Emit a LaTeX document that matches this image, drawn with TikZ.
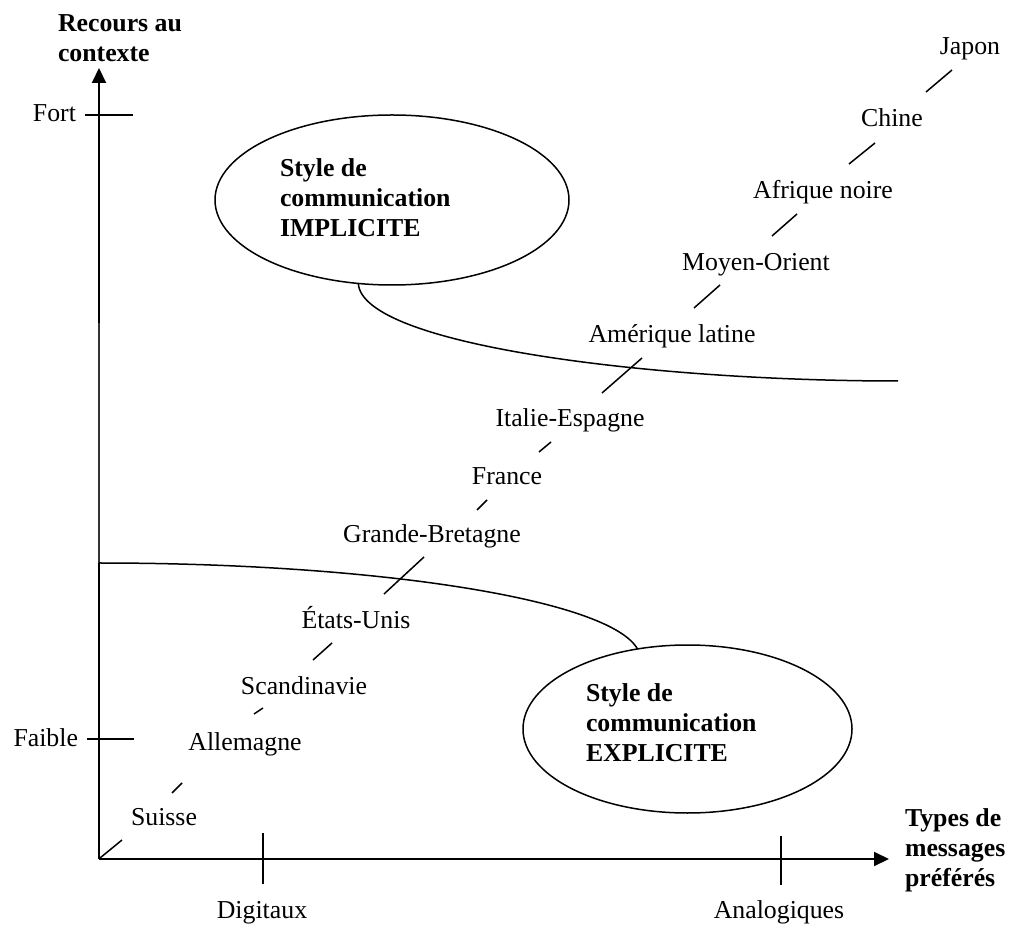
\documentclass[tikz,border=0pt]{standalone}
\usepackage{fontspec}
\setmainfont{Liberation Serif}
\usetikzlibrary{arrows.meta,shapes.geometric}
\begin{document}
\begin{tikzpicture}[x=0.5pt,y=-0.5pt,
  every node/.style={inner sep=0pt,outer sep=0pt,font=\fontsize{12.9}{15}\selectfont},
  axisline/.style={line width=1pt},
  thinaxis/.style={line width=0.75pt,black!80},
  tickline/.style={line width=0.9pt},
  tip/.style={-{Triangle[length=7.5pt,width=7pt]}},
  bubble/.style={draw,ellipse,line width=0.75pt},
  heading/.style={font=\fontsize{12.9}{15}\selectfont\bfseries,align=left,anchor=west},
  country/.style={anchor=base},
  curve/.style={line width=0.75pt},
  seg/.style={line width=0.75pt}]
\useasboundingbox (0,0) rectangle (1011,929);

% axes
\coordinate (O) at (99,859);
\coordinate (ylow) at (99,563);
\coordinate (yhigh) at (99,323);
\coordinate (ytip) at (99,68);
\coordinate (xtip) at (889,859);
\draw[thinaxis] (ylow) -- (yhigh);
\draw[axisline] (O) -- (ylow);
\draw[axisline,tip] (yhigh) -- (ytip);
\draw[axisline,tip] (O) -- (xtip);

% ticks
\coordinate (fortL) at (85,115);   \coordinate (fortR) at (133,115);
\coordinate (faibL) at (87,739);   \coordinate (faibR) at (134,739);
\coordinate (digT) at (263,833);   \coordinate (digB) at (263,884);
\coordinate (anaT) at (781,836);   \coordinate (anaB) at (781,885);
\draw[tickline] (fortL) -- (fortR);
\draw[tickline] (faibL) -- (faibR);
\draw[tickline] (digT) -- (digB);
\draw[tickline] (anaT) -- (anaB);

% axis labels
\node[heading] (ytitle) at (58,38) {Recours au\\contexte};
\node[heading] (xtitle) at (905,850) {Types de\\messages\\préférés};
\node[anchor=base east] (fort) at (76,122) {Fort};
\node[anchor=base east] (faible) at (78,746) {Faible};
\node[anchor=base] (digitaux) at (262,918) {Digitaux};
\node[anchor=base] (analog) at (779,918) {Analogiques};

% the two communication styles
\node[bubble,minimum width=177pt,minimum height=85pt] (impl) at (392,200) {};
\node[heading] (impltext) at (280,198) {Style de\\communication\\IMPLICITE};
\node[bubble,minimum width=164.5pt,minimum height=84pt] (expl) at (687.5,729) {};
\node[heading] (expltext) at (586,723) {Style de\\communication\\EXPLICITE};

\coordinate (implend) at (898,381);
\coordinate (explstart) at (99,563);
\draw[curve] (impl.248) .. controls (362,345) and (650,381) .. (implend);
\draw[curve] (explstart) .. controls (380,563) and (610,600) .. (expl.122);

% countries
\node[country] (japon) at (970,55) {Japon};
\node[country] (chine) at (892,127) {Chine};
\node[country] (afrique) at (823,199) {Afrique noire};
\node[country] (moyen) at (756,271) {Moyen-Orient};
\node[country] (amerique) at (672,343) {Amérique latine};
\node[country] (italie) at (570,427) {Italie-Espagne};
\node[country] (france) at (507,485) {France};
\node[country] (gb) at (432,543) {Grande-Bretagne};
\node[country] (usa) at (356,628) {États-Unis};
\node[country] (scand) at (304,694) {Scandinavie};
\node[country] (allem) at (245,750) {Allemagne};
\node[country] (suisse) at (164,825) {Suisse};

% broken diagonal between the countries
\foreach \ax/\ay/\bx/\by in {
  100/858/122/840, 172/793/182/783, 254/714/263/708, 313/660/332/643,
  384/594/424/557, 477/510/487/500, 539/452/551/442, 602/393/642/358,
  694/308/720/285, 772/236/797/214, 849/164/875/143, 926/92/952/70}
  \draw[seg] (\ax,\ay) -- (\bx,\by);
\end{tikzpicture}
\end{document}
